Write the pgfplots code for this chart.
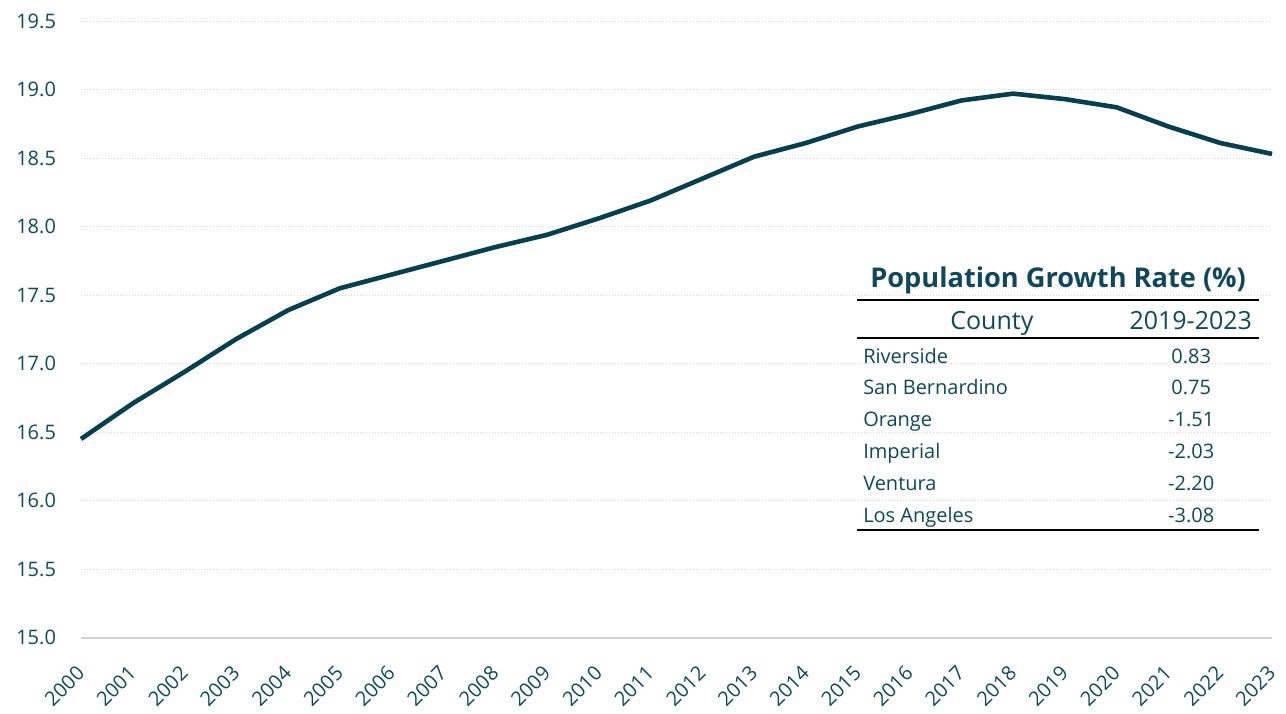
\documentclass[border=0pt]{standalone}
\usepackage{pgfplots}
\pgfplotsset{compat=1.18}
\usepackage{fontspec}
\setmainfont{Open Sans}
\definecolor{teal1}{RGB}{0,64,80}
\definecolor{tealtxt}{RGB}{14,72,90}
\definecolor{gridc}{RGB}{210,210,210}
\begin{document}
\begin{tikzpicture}
\begin{axis}[
  scale only axis,
  width=595.5pt, height=308.35pt,
  xmin=2000, xmax=2023, ymin=15, ymax=19.5,
  xtick={2000,2001,...,2023},
  ytick={15,15.5,...,19.5},
  axis x line*=bottom, axis y line*=left,
  y axis line style={draw=none},
  x axis line style={draw=gridc, line width=0.9pt},
  tick style={draw=none},
  ymajorgrids,
  major grid style={draw=gridc, line width=0.5pt, dash pattern=on 0.5pt off 1pt},
  font=\fontsize{10pt}{12pt}\selectfont,
  ticklabel style={text=tealtxt},
  /pgf/number format/assume math mode=true,
  x tick label style={/pgf/number format/1000 sep={}, rotate=45, anchor=east, xshift=-8pt, yshift=-11.2pt},
  y tick label style={/pgf/number format/.cd, fixed, fixed zerofill, precision=1, /tikz/.cd, xshift=-9pt},
  clip=false,
]
\addplot[teal1, line width=2.3pt, line join=round, line cap=butt] coordinates {
(2000,16.45) (2001,16.71) (2002,16.94) (2003,17.18) (2004,17.39) (2005,17.55)
(2006,17.65) (2007,17.75) (2008,17.85) (2009,17.94) (2010,18.06) (2011,18.19)
(2012,18.35) (2013,18.51) (2014,18.61) (2015,18.73) (2016,18.82) (2017,18.92)
(2018,18.97) (2019,18.93) (2020,18.87) (2021,18.73) (2022,18.61) (2023,18.53)
};
\coordinate (O) at (rel axis cs:0,0);
% inset table
\node[anchor=base, text=tealtxt, font=\fontsize{13.6pt}{16pt}\selectfont\bfseries] at (axis cs:2018.87,17.559) {Population Growth Rate (\%)};
\draw[black, line width=1pt] (axis cs:2014.99,17.464) -- (axis cs:2022.75,17.464);
\node[anchor=base, text=tealtxt, font=\fontsize{12.5pt}{15pt}\selectfont] at (axis cs:2017.59,17.250) {County};
\node[anchor=base, text=tealtxt, font=\fontsize{12.5pt}{15pt}\selectfont] at (axis cs:2021.43,17.250) {2019-2023};
\draw[black, line width=1pt] (axis cs:2014.99,17.187) -- (axis cs:2022.75,17.187);
\begin{scope}[every node/.style={text=tealtxt, font=\fontsize{10pt}{12pt}\selectfont}]
\node[anchor=base west] at (axis cs:2014.97,17.002) {Riverside};
\node[anchor=base west] at (axis cs:2014.97,16.771) {San Bernardino};
\node[anchor=base west] at (axis cs:2014.97,16.540) {Orange};
\node[anchor=base west] at (axis cs:2014.97,16.309) {Imperial};
\node[anchor=base west] at (axis cs:2014.97,16.073) {Ventura};
\node[anchor=base west] at (axis cs:2014.97,15.839) {Los Angeles};
\node[anchor=base] at (axis cs:2021.44,17.002) {0.83};
\node[anchor=base] at (axis cs:2021.44,16.771) {0.75};
\node[anchor=base] at (axis cs:2021.44,16.540) {-1.51};
\node[anchor=base] at (axis cs:2021.44,16.309) {-2.03};
\node[anchor=base] at (axis cs:2021.44,16.073) {-2.20};
\node[anchor=base] at (axis cs:2021.44,15.839) {-3.08};
\end{scope}
\draw[black, line width=1pt] (axis cs:2014.99,15.786) -- (axis cs:2022.75,15.786);
\end{axis}
\pgfresetboundingbox
\path[use as bounding box] (O) ++(-40.5pt,-37.65pt) rectangle ++(643pt,356.5pt);
\end{tikzpicture}
\end{document}
